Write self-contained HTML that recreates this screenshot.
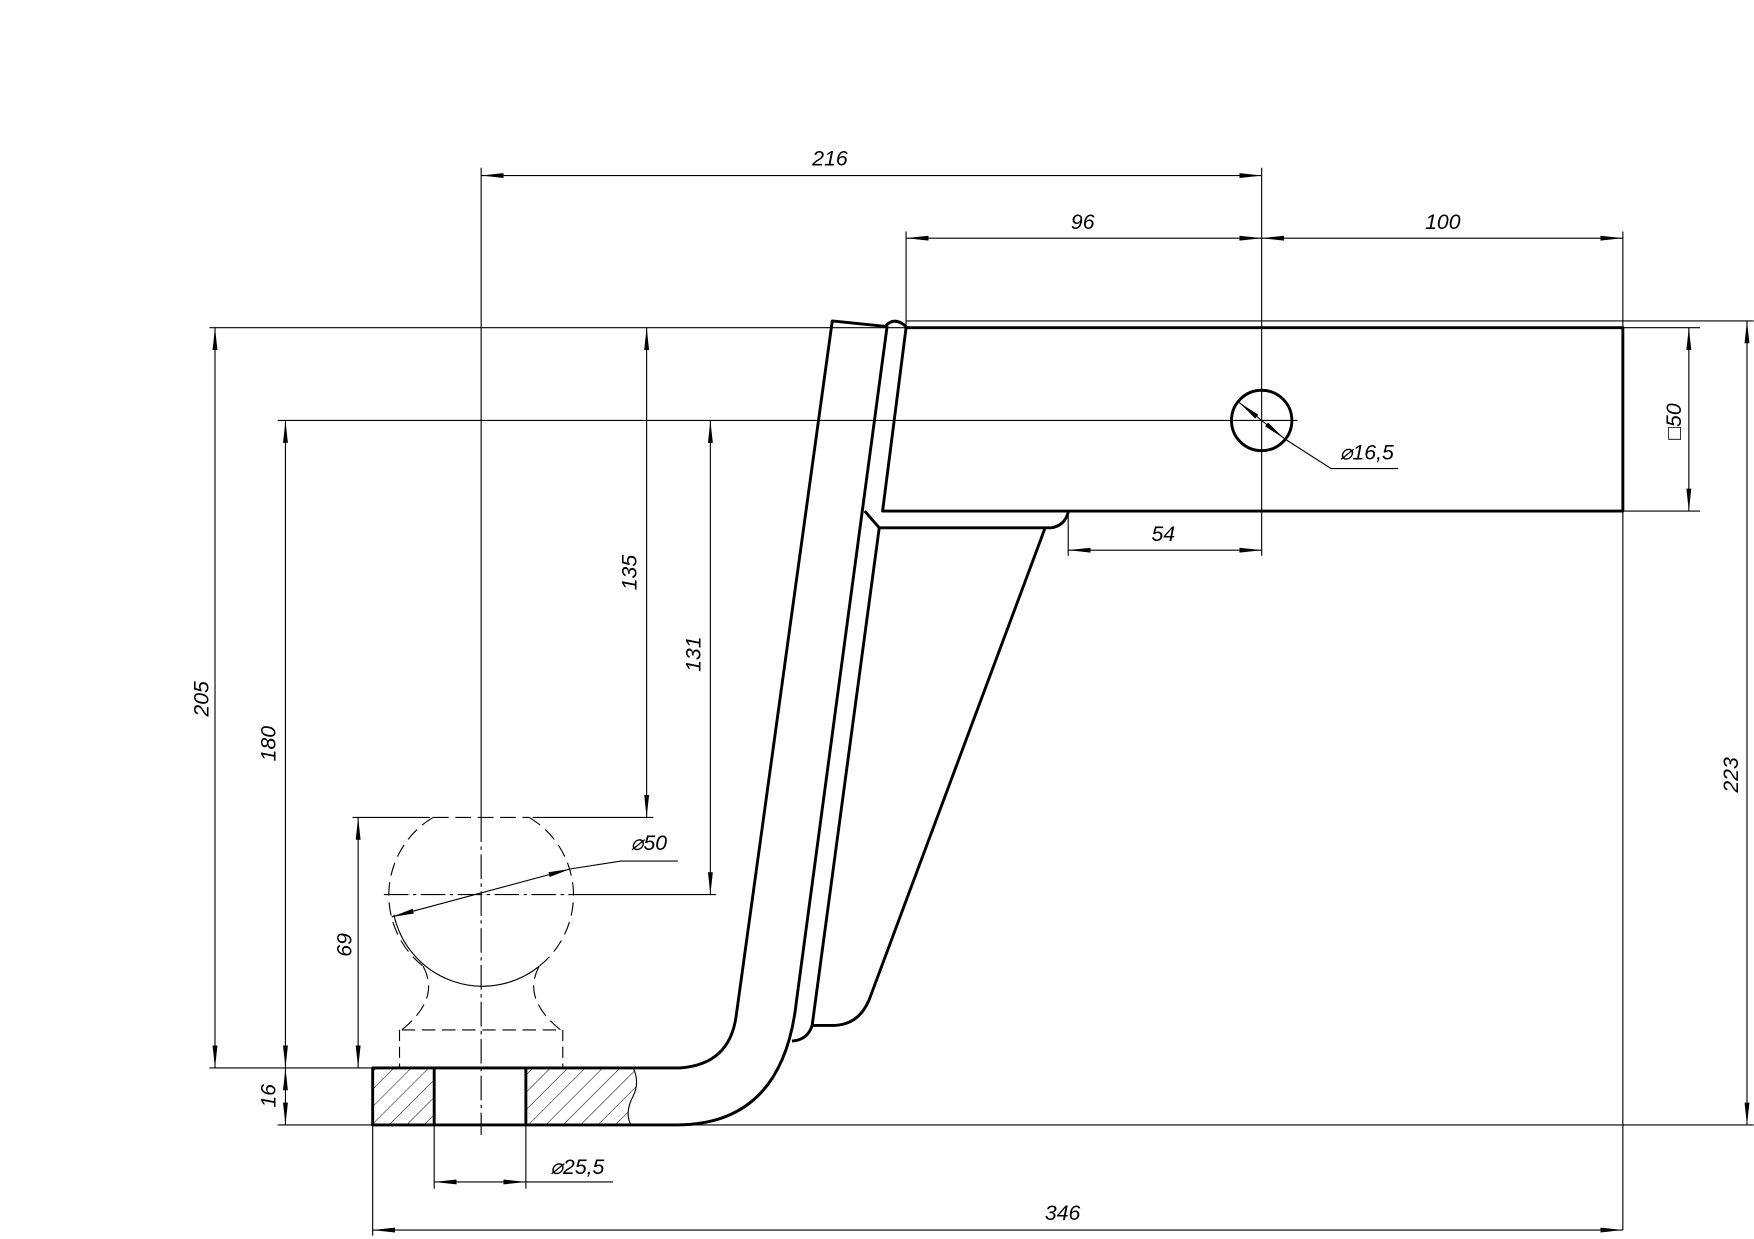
<!DOCTYPE html>
<html><head><meta charset="utf-8"><style>
html,body{margin:0;padding:0;background:#fff;}
svg{display:block;}
text{font-family:"Liberation Sans",sans-serif;font-style:italic;font-size:19px;fill:#000;}
</style></head><body>
<svg width="1754" height="1239" viewBox="0 0 1568 1108" xmlns="http://www.w3.org/2000/svg">
<defs>
<marker id="a" viewBox="0 0 20 6" refX="20" refY="3" markerWidth="20" markerHeight="6" markerUnits="userSpaceOnUse" orient="auto-start-reverse">
<path d="M0,0.8 L20,3 L0,5.2 Z" fill="#000"/></marker>
<pattern id="hp" patternUnits="userSpaceOnUse" width="11" height="11" patternTransform="rotate(45)">
<line x1="0" y1="0" x2="0" y2="11" stroke="#000" stroke-width="0.9"/></pattern>
</defs>
<rect width="1568" height="1108" fill="#fff"/>

<rect x="333" y="955" width="55" height="51" fill="url(#hp)"/>
<path d="M470,955 L566,955 Q572,968 566,980 Q558,995 564,1006 L470,1006 Z" fill="url(#hp)"/>

<g fill="none" stroke="#000" stroke-width="1">
<line x1="430" y1="150" x2="430" y2="731"/>
<line x1="810" y1="207" x2="810" y2="293"/>
<line x1="1128" y1="150" x2="1128" y2="497"/>
<line x1="1451" y1="207" x2="1451" y2="1100"/>
<line x1="187" y1="293" x2="810" y2="293"/>
<line x1="1451" y1="293" x2="1520" y2="293"/>
<line x1="810" y1="287" x2="1568" y2="287"/>
<line x1="248" y1="376" x2="1160" y2="376"/>
<line x1="1451" y1="457" x2="1520" y2="457"/>
<line x1="955" y1="460" x2="955" y2="497"/>
<line x1="187" y1="955" x2="333" y2="955"/>
<line x1="248" y1="1006" x2="333" y2="1006"/>
<line x1="600" y1="1006" x2="1568" y2="1006"/>
<line x1="315" y1="731" x2="384" y2="731"/>
<line x1="476" y1="731" x2="584" y2="731"/>
<line x1="511" y1="800" x2="640" y2="800"/>
<line x1="333" y1="1006" x2="333" y2="1105"/>
<line x1="388" y1="1006" x2="388" y2="1063"/>
<line x1="470" y1="1006" x2="470" y2="1063"/>
<line x1="430" y1="731" x2="430" y2="1015" stroke-dasharray="22,4,3,4"/>
<line x1="343" y1="800" x2="511" y2="800" stroke-dasharray="22,4,3,4"/>

<line x1="430" y1="157" x2="1128" y2="157" marker-start="url(#a)" marker-end="url(#a)"/>
<line x1="810" y1="213" x2="1128" y2="213" marker-start="url(#a)" marker-end="url(#a)"/>
<line x1="1128" y1="213" x2="1451" y2="213" marker-start="url(#a)" marker-end="url(#a)"/>
<line x1="192" y1="293" x2="192" y2="955" marker-start="url(#a)" marker-end="url(#a)"/>
<line x1="255" y1="376" x2="255" y2="955" marker-start="url(#a)" marker-end="url(#a)"/>
<line x1="578" y1="293" x2="578" y2="731" marker-start="url(#a)" marker-end="url(#a)"/>
<line x1="635" y1="376" x2="635" y2="800" marker-start="url(#a)" marker-end="url(#a)"/>
<line x1="320" y1="731" x2="320" y2="955" marker-start="url(#a)" marker-end="url(#a)"/>
<line x1="255" y1="955" x2="255" y2="1006" marker-start="url(#a)" marker-end="url(#a)"/>
<line x1="1510" y1="293" x2="1510" y2="457" marker-start="url(#a)" marker-end="url(#a)"/>
<line x1="1562" y1="287" x2="1562" y2="1006" marker-start="url(#a)" marker-end="url(#a)"/>
<line x1="955" y1="492" x2="1128" y2="492" marker-start="url(#a)" marker-end="url(#a)"/>
<line x1="333" y1="1100" x2="1451" y2="1100" marker-start="url(#a)" marker-end="url(#a)"/>
<line x1="388" y1="1057" x2="470" y2="1057" marker-start="url(#a)" marker-end="url(#a)"/>
<line x1="470" y1="1057" x2="548" y2="1057"/>
<line x1="1108" y1="360" x2="1148" y2="392" marker-start="url(#a)" marker-end="url(#a)"/>
<polyline points="1148,392 1190,419 1250,419"/>
<line x1="350" y1="820" x2="510" y2="777" marker-start="url(#a)" marker-end="url(#a)"/>
<polyline points="510,777 555,770 606,770"/>

<!-- ball (truncated at top) -->
<path d="M387,731 A81,81 0 0 0 378,864" stroke-dasharray="12,6"/>
<path d="M473,731 A81,81 0 0 1 482,864" stroke-dasharray="12,6"/>
<line x1="387" y1="731" x2="473" y2="731" stroke-dasharray="14,6"/>
<path d="M352,818 A81,81 0 0 0 482,864"/>
<path d="M378,864 Q394,893 359,921" stroke-dasharray="12,6"/>
<path d="M482,864 Q466,893 501,921" stroke-dasharray="12,6"/>
<line x1="359" y1="921" x2="501" y2="921" stroke-dasharray="12,6"/>
<line x1="357" y1="921" x2="357" y2="955" stroke-dasharray="10,5"/>
<line x1="503" y1="921" x2="503" y2="955" stroke-dasharray="10,5"/>
<path d="M566,955 Q572,968 566,980 Q558,995 564,1006"/>
</g>

<g fill="none" stroke="#000" stroke-width="2.6" stroke-linejoin="round">
<polyline points="810,293 1451,293 1451,457 789,457 810,293"/>
<circle cx="1128" cy="376" r="27"/>
<path d="M792,291 Q800,283 810,292"/>
<path d="M333,955 L608,955 Q652,952 658,909 L744,287 L793,292 L712,895 Q700,1006 605,1006 L333,1006 Z"/>
<line x1="388" y1="955" x2="388" y2="1006"/>
<line x1="470" y1="955" x2="470" y2="1006"/>
<polyline points="773,457 786,472 940,472"/>
<path d="M940,472 Q952,470 955,458"/>
<path d="M786,472 L726,917 Q722,930 708,931"/>
<path d="M726,917 L746,917 Q768,916 777,894 L934,473"/>
</g>

<text x="742" y="148" text-anchor="middle">216</text>
<text x="968" y="205" text-anchor="middle">96</text>
<text x="1290" y="205" text-anchor="middle">100</text>
<text x="1040" y="484" text-anchor="middle">54</text>
<text x="950" y="1091" text-anchor="middle">346</text>
<text x="1222" y="411" text-anchor="middle">⌀16,5</text>
<text x="580" y="760" text-anchor="middle">⌀50</text>
<text x="516" y="1050" text-anchor="middle">⌀25,5</text>
<text transform="translate(186,625) rotate(-90)" text-anchor="middle">205</text>
<text transform="translate(246,665) rotate(-90)" text-anchor="middle">180</text>
<text transform="translate(569,512) rotate(-90)" text-anchor="middle">135</text>
<text transform="translate(626,585) rotate(-90)" text-anchor="middle">131</text>
<text transform="translate(314,845) rotate(-90)" text-anchor="middle">69</text>
<text transform="translate(246,980) rotate(-90)" text-anchor="middle">16</text>
<text transform="translate(1503,377) rotate(-90)" text-anchor="middle">□50</text>
<text transform="translate(1554,693) rotate(-90)" text-anchor="middle">223</text>
</svg>
</body></html>
